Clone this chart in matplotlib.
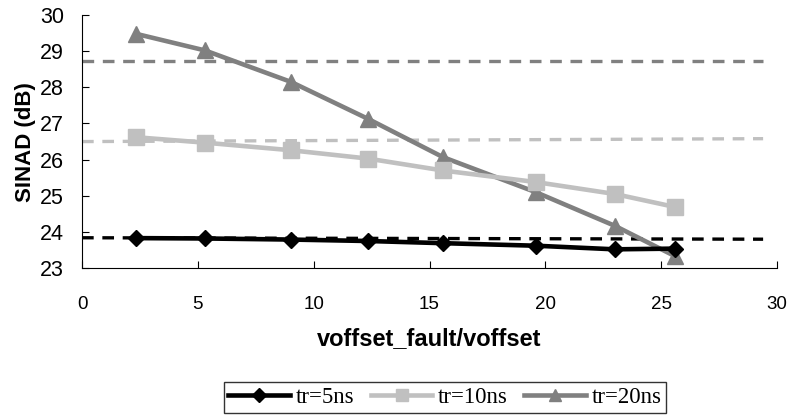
import numpy as np
import matplotlib
matplotlib.use('Agg')
import matplotlib.pyplot as plt

plt.rcParams['font.family'] = ['Liberation Sans', 'DejaVu Sans']

# data
x = [2.33, 5.31, 9.02, 12.34, 15.58, 19.59, 23.0, 25.6]
tr5 = [23.83, 23.82, 23.79, 23.75, 23.69, 23.62, 23.52, 23.54]
tr10 = [26.62, 26.47, 26.26, 26.03, 25.70, 25.38, 25.05, 24.69]
tr20 = [29.48, 29.02, 28.15, 27.13, 26.07, 25.10, 24.17, 23.33]
# horizontal reference (dashed) levels: [left, right]
ref_x = [0, 29.4]
ref5 = [23.84, 23.80]
ref10 = [26.50, 26.58]
ref20 = [28.73, 28.73]

c5, c10, c20 = '#000000', '#c0c0c0', '#808080'

fig = plt.figure(figsize=(7.94, 4.17), dpi=100)
ax = fig.add_axes([0.1033, 0.357, 0.8753, 0.607])

ax.plot(ref_x, ref20, '--', color=c20, lw=2.4, dashes=(3.5, 2.6))
ax.plot(ref_x, ref10, '--', color=c10, lw=2.4, dashes=(3.5, 2.6))
ax.plot(ref_x, ref5, '--', color=c5, lw=2.4, dashes=(3.5, 2.6))

ax.plot(x, tr5, '-D', color=c5, lw=3.3, ms=8, label='tr=5ns', zorder=5)
ax.plot(x, tr10, '-s', color=c10, lw=3.3, ms=11, label='tr=10ns', zorder=4)
ax.plot(x, tr20, '-^', color=c20, lw=3.3, ms=11, label='tr=20ns', zorder=3)

ax.set_xlim(0, 30)
ax.set_ylim(23, 30)
ax.set_xticks(range(0, 31, 5))
ax.set_yticks(range(23, 31))
for s in ['top', 'right']:
    ax.spines[s].set_visible(False)
ax.tick_params(direction='in', length=5)
ax.tick_params(axis='x', pad=20, labelsize=13.5)
ax.tick_params(axis='y', pad=13, labelsize=15.5)

ax.set_xlabel('voffset_fault/voffset', fontsize=17, fontweight='bold', labelpad=10)
ax.set_ylabel('SINAD (dB)', fontsize=16, fontweight='bold', labelpad=3)

leg = fig.legend(loc='lower center', bbox_to_anchor=(0.5605, 0.005), ncol=3,
                 frameon=True, fancybox=False, edgecolor='black',
                 prop={'family': 'Liberation Serif', 'size': 16.5},
                 handlelength=2.7, handletextpad=0.25, columnspacing=0.7,
                 borderpad=0.2, borderaxespad=0.1, markerscale=0.85)
leg.get_frame().set_linewidth(1.0)

fig.savefig('out.png', dpi=100)
